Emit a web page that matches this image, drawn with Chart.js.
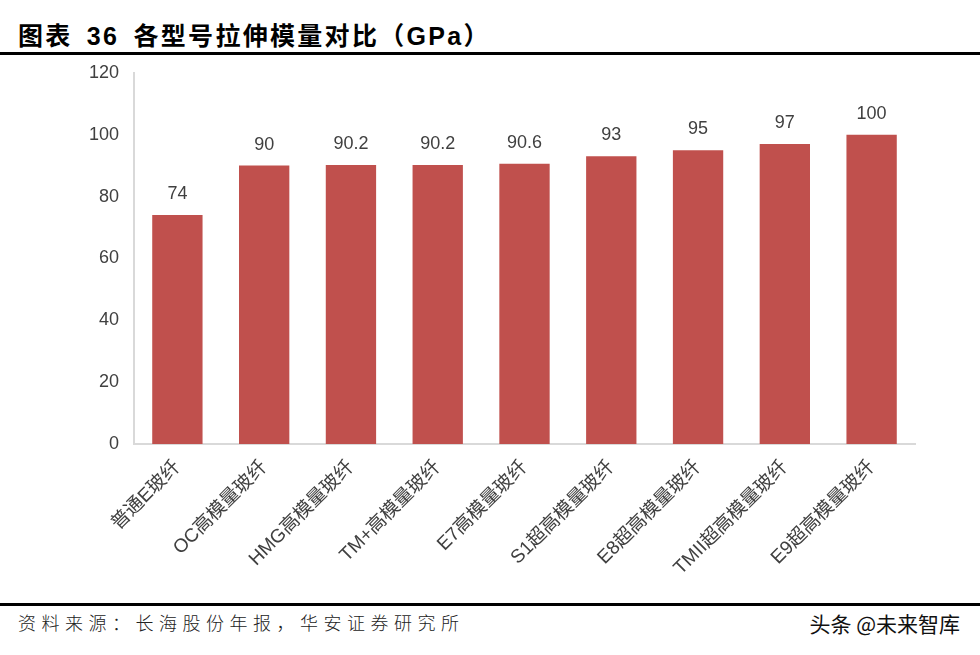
<!DOCTYPE html>
<html>
<head>
<meta charset="utf-8">
<script src="https://cdn.jsdelivr.net/npm/chart.js@4.4.1/dist/chart.umd.min.js"></script>
<style>
  body { margin: 0; background: #fff; width: 980px; height: 655px; position: relative; overflow: hidden; }
  #title { position: absolute; left: 18px; top: 16px; font: bold 25px "Liberation Sans", "Noto Sans CJK SC", sans-serif; color: #000; letter-spacing: 2.3px; word-spacing: 5px; white-space: nowrap; }
  #topline { position: absolute; left: 0; top: 52px; width: 980px; height: 3px; background: #000; }
  #botline { position: absolute; left: 0; top: 603px; width: 980px; height: 3px; background: #000; }
  #source { position: absolute; left: 18px; top: 609px; font: 18px "Noto Sans CJK SC", sans-serif; font-weight: 300; color: #222; letter-spacing: 5.5px; white-space: nowrap; }
  #mark { position: absolute; right: 20px; top: 608px; font: 21px "Noto Sans CJK SC", sans-serif; color: #111; white-space: nowrap; }
  #wrap { position: absolute; left: 0; top: 52px; width: 980px; height: 548px; }
</style>
</head>
<body>
<div id="title">图表 36 各型号拉伸模量对比（GPa）</div>
<div id="topline"></div>
<div id="wrap"><canvas id="chart"></canvas></div>
<div id="botline"></div>
<div id="source">资料来源：长海股份年报，华安证券研究所</div>
<div id="mark">头条 @未来智库</div>
<script>
var categories = ["普通E玻纤", "OC高模量玻纤", "HMG高模量玻纤", "TM+高模量玻纤", "E7高模量玻纤", "S1超高模量玻纤", "E8超高模量玻纤", "TMII超高模量玻纤", "E9超高模量玻纤"];
var modulus = [74, 90, 90.2, 90.2, 90.6, 93, 95, 97, 100];
var yTicks = [0, 20, 40, 60, 80, 100, 120];

var valueLabels = {
  id: 'valueLabels',
  afterDatasetsDraw: function(chart) {
    var ctx = chart.ctx;
    var meta = chart.getDatasetMeta(0);
    ctx.save();
    ctx.font = '18px "Liberation Sans", sans-serif';
    ctx.fillStyle = '#404040';
    ctx.textAlign = 'center';
    ctx.textBaseline = 'middle';
    meta.data.forEach(function(bar, i) {
      ctx.fillText(String(modulus[i]), bar.x, bar.y - 21);
    });
    ctx.restore();
  }
};

new Chart(document.getElementById('chart'), {
  type: 'bar',
  data: {
    labels: categories,
    datasets: [{
      data: modulus,
      backgroundColor: '#c0504d',
      borderWidth: 0,
      barPercentage: 0.58,
      categoryPercentage: 1
    }]
  },
  options: {
    responsive: true,
    maintainAspectRatio: false,
    animation: false,
    layout: { padding: { top: 4, right: 65, left: 0, bottom: 0 } },
    plugins: { legend: { display: false }, tooltip: { enabled: false } },
    scales: {
      x: {
        grid: { display: false, drawTicks: false },
        border: { color: '#d9d9d9', width: 2 },
        ticks: {
          color: '#404040',
          font: { family: '"Liberation Sans", "Noto Sans CJK SC", sans-serif', size: 19 },
          minRotation: 45,
          maxRotation: 45,
          padding: 12,
          autoSkip: false
        },
        afterFit: function(scale) { scale.height = 156; }
      },
      y: {
        min: 0,
        max: 120,
        afterBuildTicks: function(scale) {
          scale.ticks = yTicks.map(function(v) { return { value: v }; });
        },
        grid: { display: false, drawOnChartArea: false, drawTicks: true, tickLength: 5, color: '#d9d9d9', lineWidth: 2 },
        border: { color: '#d9d9d9', width: 2 },
        ticks: {
          color: '#404040',
          font: { family: '"Liberation Sans", sans-serif', size: 18 },
          padding: 10
        },
        afterFit: function(scale) { scale.width = 134; }
      }
    }
  },
  plugins: [valueLabels]
});
</script>
</body>
</html>
